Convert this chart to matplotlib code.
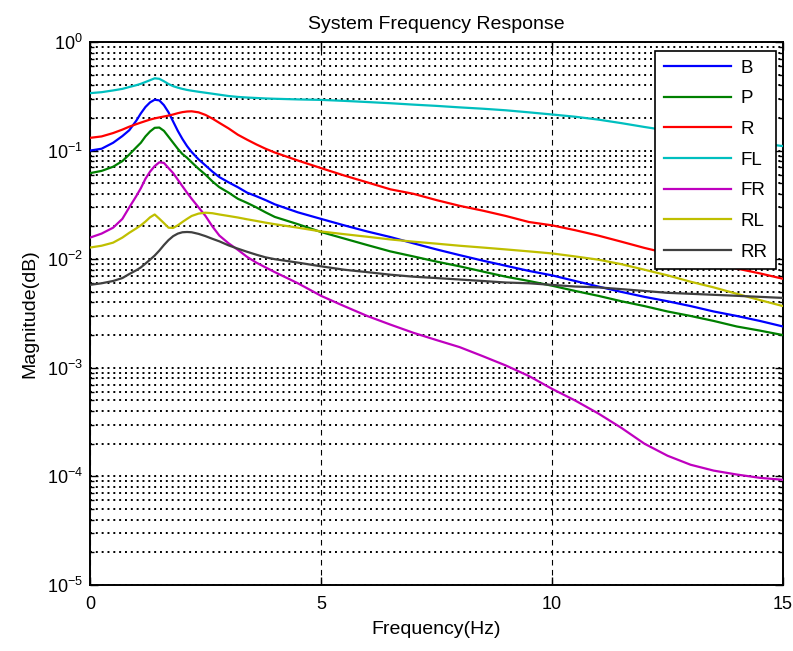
import matplotlib
matplotlib.use('Agg')
import matplotlib.pyplot as plt
from matplotlib.ticker import LogLocator, NullFormatter

plt.rcParams['font.family'] = ['Liberation Sans', 'DejaVu Sans']
plt.rcParams['mathtext.default'] = 'regular'
plt.rcParams['axes.unicode_minus'] = False

# frequency samples (Hz)
freq = [0, 0.25, 0.5, 0.7, 0.85, 1.0, 1.1, 1.2, 1.3, 1.4, 1.5, 1.6, 1.7, 1.8, 1.9,
        2.0, 2.1, 2.2, 2.35, 2.5, 2.65, 2.8, 3.0, 3.2, 3.4, 3.6, 3.8, 4.0,
        4.5, 5, 5.5, 6, 6.5, 7, 7.5, 8, 8.5, 9, 9.5, 10, 10.5, 11, 11.5, 12,
        12.5, 13, 13.5, 14, 14.5, 15]

mag_B = [0.100, 0.104, 0.118, 0.136, 0.154, 0.188, 0.220, 0.252, 0.278, 0.294,
         0.290, 0.262, 0.225, 0.185, 0.152, 0.128, 0.110, 0.097, 0.083, 0.073,
         0.064, 0.057, 0.051, 0.046, 0.041, 0.038, 0.035, 0.032,
         0.027, 0.0235, 0.0205, 0.0180, 0.0160, 0.0140, 0.0123, 0.0109, 0.0097,
         0.0087, 0.0078, 0.0071, 0.0063, 0.0056, 0.0050, 0.0045, 0.0041, 0.0037,
         0.0033, 0.0030, 0.0027, 0.0024]
mag_P = [0.062, 0.065, 0.071, 0.080, 0.092, 0.107, 0.118, 0.135, 0.150, 0.162,
         0.163, 0.152, 0.134, 0.118, 0.104, 0.093, 0.086, 0.078, 0.068, 0.060,
         0.052, 0.046, 0.041, 0.036, 0.033, 0.030, 0.027, 0.0245,
         0.021, 0.0178, 0.0155, 0.0135, 0.0118, 0.0106, 0.0095, 0.0086, 0.0077,
         0.0069, 0.0063, 0.0057, 0.0051, 0.0046, 0.0041, 0.0037, 0.0033, 0.0030,
         0.0027, 0.0024, 0.0022, 0.0020]
mag_R = [0.131, 0.135, 0.145, 0.156, 0.166, 0.175, 0.181, 0.187, 0.193, 0.198,
         0.202, 0.206, 0.210, 0.215, 0.221, 0.226, 0.229, 0.230, 0.225, 0.213,
         0.197, 0.180, 0.160, 0.140, 0.126, 0.114, 0.104, 0.096,
         0.081, 0.069, 0.059, 0.051, 0.044, 0.040, 0.035, 0.031, 0.028,
         0.025, 0.022, 0.0205, 0.0185, 0.0165, 0.0145, 0.0127, 0.0113, 0.0101,
         0.0091, 0.0082, 0.0074, 0.0066]
mag_FL = [0.338, 0.345, 0.358, 0.370, 0.385, 0.400, 0.412, 0.428, 0.445, 0.463,
          0.458, 0.435, 0.410, 0.392, 0.380, 0.370, 0.362, 0.356, 0.348, 0.341,
          0.334, 0.327, 0.318, 0.312, 0.308, 0.305, 0.302, 0.300,
          0.296, 0.293, 0.287, 0.280, 0.273, 0.265, 0.258, 0.250, 0.243,
          0.235, 0.225, 0.215, 0.205, 0.193, 0.179, 0.165, 0.153, 0.143,
          0.134, 0.125, 0.117, 0.110]
mag_FR = [0.0158, 0.0172, 0.0195, 0.0235, 0.030, 0.038, 0.045, 0.055, 0.064, 0.072,
          0.078, 0.077, 0.069, 0.062, 0.054, 0.047, 0.041, 0.036, 0.030, 0.025,
          0.020, 0.0165, 0.0140, 0.0122, 0.0105, 0.0093, 0.0084, 0.0076,
          0.0060, 0.0046, 0.0037, 0.0030, 0.0025, 0.0021, 0.0018, 0.00155, 0.00128,
          0.00105, 0.00084, 0.00064, 0.00050, 0.00038, 0.00028, 0.000200, 0.000155,
          0.000128, 0.000113, 0.000104, 0.000097, 0.000093]
mag_RL = [0.0128, 0.0133, 0.0142, 0.0158, 0.0175, 0.0192, 0.0205, 0.0222, 0.0243, 0.0258,
          0.0236, 0.0215, 0.0195, 0.0194, 0.0205, 0.0220, 0.0235, 0.0250, 0.0263, 0.0268,
          0.0265, 0.0258, 0.0250, 0.0242, 0.0233, 0.0225, 0.0217, 0.0210,
          0.0195, 0.0180, 0.0170, 0.0161, 0.0152, 0.0145, 0.0139, 0.0133, 0.0128,
          0.0123, 0.0118, 0.0113, 0.0106, 0.0099, 0.0090, 0.0080, 0.0071, 0.0062,
          0.0055, 0.0048, 0.0042, 0.0037]
mag_RR = [0.0058, 0.0060, 0.0063, 0.0067, 0.0073, 0.0079, 0.0084, 0.0091, 0.0099, 0.0108,
          0.0120, 0.0135, 0.0150, 0.0163, 0.0172, 0.0177, 0.0178, 0.0177, 0.0171, 0.0163,
          0.0154, 0.0146, 0.0134, 0.0125, 0.0117, 0.0110, 0.0104, 0.0100,
          0.0093, 0.0086, 0.0080, 0.0076, 0.0072, 0.0069, 0.0067, 0.0065, 0.0063,
          0.0061, 0.0060, 0.0058, 0.0056, 0.0055, 0.0053, 0.0051, 0.0049, 0.0048,
          0.0047, 0.0046, 0.0045, 0.0044]

series = [('B', mag_B, (0, 0, 1)),
          ('P', mag_P, (0, 0.5, 0)),
          ('R', mag_R, (1, 0, 0)),
          ('FL', mag_FL, (0, 0.75, 0.75)),
          ('FR', mag_FR, (0.75, 0, 0.75)),
          ('RL', mag_RL, (0.75, 0.75, 0)),
          ('RR', mag_RR, (0.25, 0.25, 0.25))]

fig = plt.figure(figsize=(7.93, 6.51), dpi=100)
ax = fig.add_axes([0.1135, 0.1014, 0.8739, 0.8341])

for name, vals, col in series:
    ax.semilogy(freq, vals, color=col, linewidth=1.6, label=name, zorder=3)

ax.set_xlim(0, 15)
ax.set_ylim(1e-5, 1)
ax.set_xticks([0, 5, 10, 15])
ax.yaxis.set_major_locator(LogLocator(base=10, numticks=10))
ax.yaxis.set_minor_locator(LogLocator(base=10, subs=range(2, 10), numticks=20))
ax.yaxis.set_minor_formatter(NullFormatter())

# grid like matlab: dotted on y (major+minor), dashed on x
ax.grid(True, axis='y', which='both', color='black', linestyle=(0, (1, 2)),
        linewidth=1.4, zorder=1)
ax.grid(True, axis='x', which='major', color='black', linestyle=(0, (5, 4)),
        linewidth=0.8, zorder=1)
ax.set_axisbelow(True)

ax.tick_params(which='both', direction='in', top=True, right=True, labelsize=13,
               width=1.0)
ax.tick_params(which='major', length=6)
ax.tick_params(which='minor', length=3)
ax.tick_params(axis='x', pad=8)
ax.tick_params(axis='y', pad=5)
for sp in ax.spines.values():
    sp.set_linewidth(1.4)

ax.set_title('System Frequency Response', fontsize=14, pad=9)
ax.set_xlabel('Frequency(Hz)', fontsize=14, labelpad=6)
ax.set_ylabel('Magnitude(dB)', fontsize=14, labelpad=6)

leg = ax.legend(loc='upper right', bbox_to_anchor=(0.99, 0.983), borderaxespad=0,
                fontsize=13.5, fancybox=False, framealpha=1, edgecolor='black',
                handlelength=3.6, handletextpad=0.5, labelspacing=0.72,
                borderpad=0.45)
leg.get_frame().set_linewidth(1.2)
leg.set_zorder(5)

plt.savefig('out.png', dpi=100)
plt.close()
